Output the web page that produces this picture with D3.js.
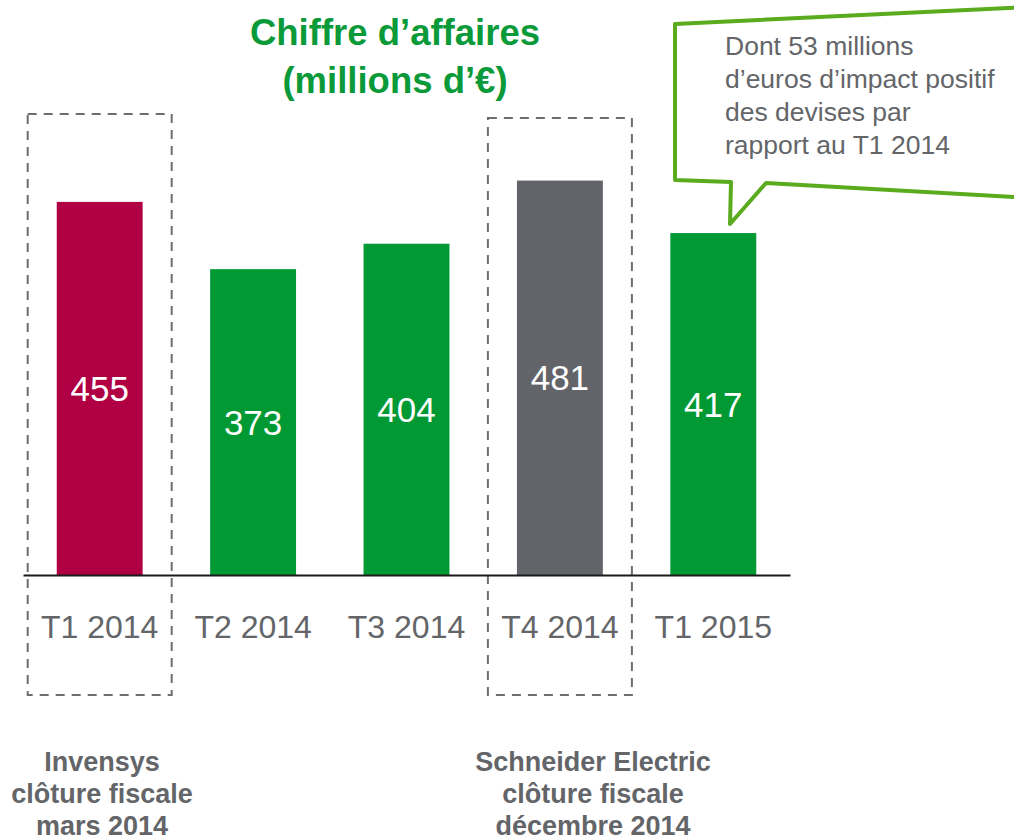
<!doctype html>
<html lang="fr">
<head>
  <meta charset="utf-8">
  <title>Chiffre d'affaires - D3</title>
  <style>
    body { margin: 0; background: #fff; }
    svg { display: block; font-family: "Liberation Sans", Arial, sans-serif; }
  </style>
</head>
<body>
  <svg></svg>
  <script src="https://cdn.jsdelivr.net/npm/d3@7"></script>
  <script>
    // données
    const categories = ['T1 2014', 'T2 2014', 'T3 2014', 'T4 2014', 'T1 2015'];
    const revenue = [455, 373, 404, 481, 417];
    const titleLines = ['Chiffre d\u2019affaires', '(millions d\u2019\u20ac)'];
    const calloutLines = ['Dont 53 millions', 'd\u2019euros d\u2019impact positif', 'des devises par', 'rapport au T1 2014'];
    const fiscalCategories = ['T1 2014', 'T4 2014'];
    const fiscalNotes = [
      ['Invensys', 'cl\u00f4ture fiscale', 'mars 2014'],
      ['Schneider Electric', 'cl\u00f4ture fiscale', 'd\u00e9cembre 2014']
    ];

    const width = 1014;
    const height = 840;
    const baseY = 575;
    const grey = '#636569';

    const svg = d3.select('svg')
      .attr('width', width)
      .attr('height', height)
      .attr('viewBox', [0, 0, width, height]);

    const x = d3.scaleBand()
      .domain(categories)
      .range([23, 790])
      .paddingInner(0.44)
      .paddingOuter(0.22);

    const y = d3.scaleLinear()
      .domain([0, 500])
      .range([baseY, baseY - 410]);

    // couleur des barres
    const barColor = (d, i) => {
      if (i === 0) return '#b00043';
      if (i === 3) return '#626469';
      return '#009933';
    };

    // titre
    svg.append('g')
      .selectAll('text')
      .data(titleLines)
      .join('text')
      .attr('x', 395)
      .attr('y', (d, i) => 45 + i * 48)
      .attr('text-anchor', 'middle')
      .attr('font-size', 36.5)
      .attr('font-weight', 'bold')
      .attr('fill', '#0a9a3a')
      .text(d => d);

    // cadres pointillés
    svg.append('g')
      .selectAll('rect')
      .data(fiscalCategories)
      .join('rect')
      .attr('x', d => x(d) + x.bandwidth() / 2 - 72)
      .attr('y', (d, i) => i === 0 ? 114 : 118)
      .attr('width', 144)
      .attr('height', (d, i) => i === 0 ? 581 : 577)
      .attr('fill', 'none')
      .attr('stroke', '#6d6e71')
      .attr('stroke-width', 2)
      .attr('stroke-dasharray', '9,7');

    // barres
    svg.append('g')
      .selectAll('rect')
      .data(revenue)
      .join('rect')
      .attr('x', (d, i) => x(categories[i]))
      .attr('y', d => y(d))
      .attr('width', x.bandwidth())
      .attr('height', d => y(0) - y(d))
      .attr('fill', barColor);

    // valeurs
    svg.append('g')
      .selectAll('text')
      .data(revenue)
      .join('text')
      .attr('x', (d, i) => x(categories[i]) + x.bandwidth() / 2)
      .attr('y', d => (y(d) + y(0)) / 2)
      .attr('dy', '0.36em')
      .attr('text-anchor', 'middle')
      .attr('font-size', 35)
      .attr('fill', '#fff')
      .text(d => d);

    // axe horizontal
    const axis = d3.axisBottom(x).tickSize(0).tickSizeOuter(0);
    svg.append('g')
      .attr('transform', `translate(0,${baseY})`)
      .call(axis)
      .call(g => g.select('.domain').attr('stroke', '#1a1a1a').attr('stroke-width', 2))
      .call(g => g.selectAll('.tick text')
        .attr('y', 63)
        .attr('dy', 0)
        .attr('font-family', '"Liberation Sans", Arial, sans-serif')
        .attr('font-size', 32)
        .attr('fill', grey));

    // bulle
    const callout = [[675, 24], [1030, 7], [1030, 198], [766, 183], [730, 224], [731, 182], [675, 180]];
    svg.append('path')
      .attr('d', d3.line()(callout) + 'Z')
      .attr('fill', '#fff')
      .attr('stroke', '#5aab1e')
      .attr('stroke-width', 4)
      .attr('stroke-linejoin', 'round');

    svg.append('g')
      .selectAll('text')
      .data(calloutLines)
      .join('text')
      .attr('x', 725)
      .attr('y', (d, i) => 55 + i * 33)
      .attr('font-size', 26.5)
      .attr('fill', grey)
      .text(d => d);

    // notes de clôture fiscale
    const notes = svg.append('g')
      .selectAll('text')
      .data(fiscalNotes)
      .join('text')
      .attr('text-anchor', 'middle')
      .attr('font-size', 27)
      .attr('font-weight', 'bold')
      .attr('fill', grey);

    notes.each(function (lines, j) {
      const cx = j === 0 ? 102 : 593;
      d3.select(this).selectAll('tspan')
        .data(lines)
        .join('tspan')
        .attr('x', cx)
        .attr('y', (d, i) => 771 + i * 32)
        .text(d => d);
    });
  </script>
</body>
</html>
